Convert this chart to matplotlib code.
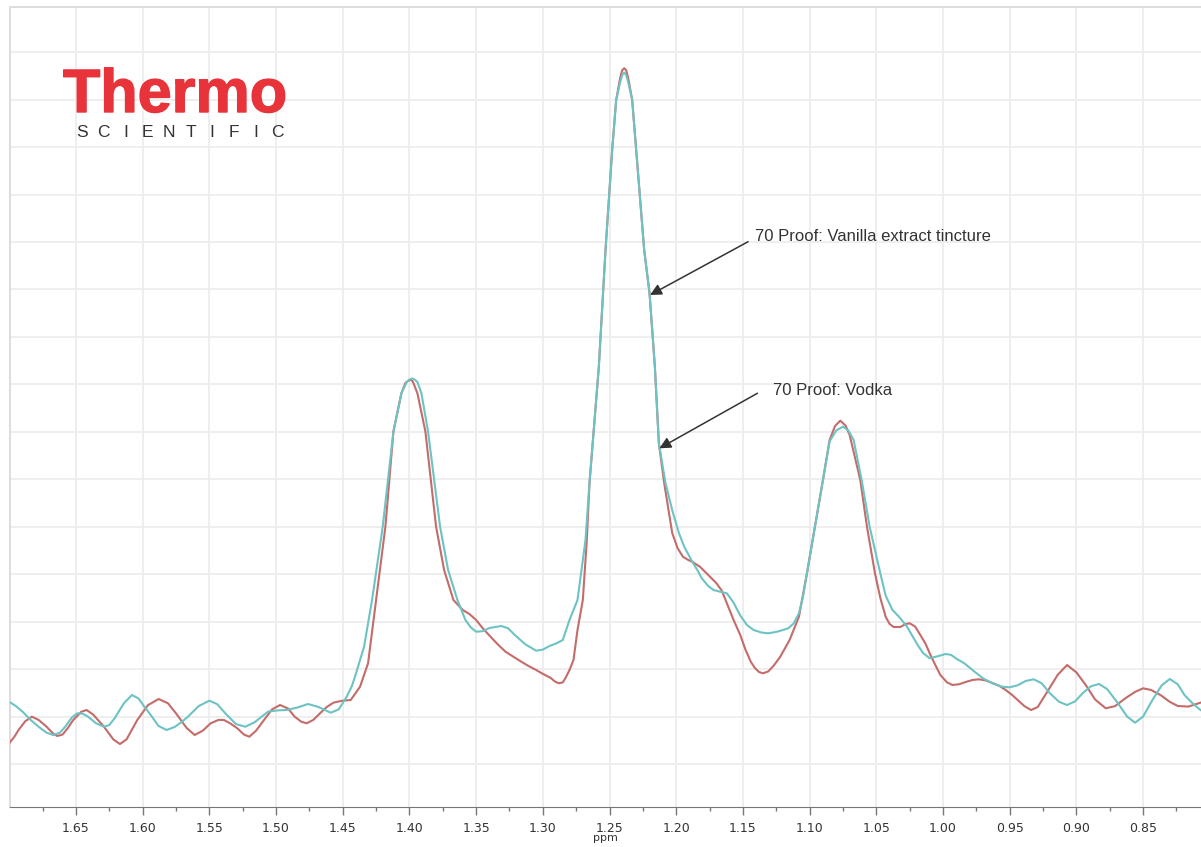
import matplotlib
matplotlib.use("Agg")
import matplotlib.pyplot as plt
import matplotlib.patheffects as pe
import numpy as np
from matplotlib.ticker import MultipleLocator, FormatStrFormatter

# chemical shift (ppm) and intensity for the vanilla extract tincture trace
tincture_ppm = [1.700, 1.695, 1.690, 1.684, 1.678, 1.672, 1.667, 1.662, 1.658, 1.653,
                1.649, 1.645, 1.641, 1.635, 1.629, 1.625, 1.621, 1.614, 1.608, 1.603,
                1.599, 1.595, 1.588, 1.582, 1.576, 1.571, 1.566, 1.558, 1.550, 1.544,
                1.538, 1.530, 1.523, 1.516, 1.506, 1.499, 1.492, 1.484, 1.476, 1.468,
                1.459, 1.453, 1.447, 1.443, 1.440, 1.434, 1.428, 1.420, 1.412, 1.406,
                1.402, 1.400, 1.398, 1.396, 1.394, 1.391, 1.386, 1.377, 1.371, 1.364,
                1.358, 1.354, 1.350, 1.345, 1.340, 1.331, 1.326, 1.321, 1.313, 1.305,
                1.300, 1.295, 1.290, 1.285, 1.280, 1.274, 1.268, 1.265, 1.258, 1.253,
                1.248, 1.245, 1.242, 1.2405, 1.239, 1.2375, 1.236, 1.233, 1.230, 1.224,
                1.220, 1.216, 1.213, 1.208, 1.203, 1.198, 1.194, 1.190, 1.188, 1.184,
                1.181, 1.176, 1.172, 1.167, 1.162, 1.157, 1.152, 1.147, 1.142, 1.136,
                1.131, 1.124, 1.116, 1.112, 1.108, 1.105, 1.102, 1.096, 1.090, 1.085,
                1.080, 1.075, 1.071, 1.067, 1.061, 1.055, 1.047, 1.043, 1.038, 1.033,
                1.027, 1.023, 1.019, 1.015, 1.010, 1.004, 0.998, 0.994, 0.990, 0.984,
                0.977, 0.970, 0.963, 0.956, 0.950, 0.944, 0.938, 0.932, 0.926, 0.920,
                0.913, 0.907, 0.901, 0.895, 0.889, 0.883, 0.877, 0.869, 0.862, 0.856,
                0.850, 0.843, 0.836, 0.830, 0.824, 0.819, 0.813, 0.807]
tincture_int = [1.313, 1.22, 1.102, 0.93, 0.786, 0.66, 0.611, 0.66, 0.786, 0.98,
                1.068, 1.06, 1.00, 0.86, 0.786, 0.82, 0.963, 1.28, 1.454, 1.38,
                1.22, 1.075, 0.80, 0.717, 0.78, 0.88, 0.997, 1.22, 1.334, 1.26,
                1.068, 0.84, 0.786, 0.88, 1.102, 1.13, 1.138, 1.19, 1.264, 1.20,
                1.081, 1.15, 1.418, 1.65, 1.911, 2.472, 3.456, 5.001, 7.003, 7.813,
                8.051, 8.10, 8.124, 8.10, 8.051, 7.813, 7.003, 5.001, 4.089, 3.456,
                3.035, 2.88, 2.788, 2.80, 2.866, 2.908, 2.86, 2.719, 2.52, 2.388,
                2.41, 2.487, 2.54, 2.613, 3.035, 3.456, 4.721, 5.922, 8.373, 10.832,
                12.940, 13.994, 14.37, 14.52, 14.569, 14.52, 14.37, 13.994, 12.940, 10.832,
                9.926, 8.373, 6.759, 5.916, 5.35, 4.868, 4.58, 4.369, 4.263, 4.08,
                3.920, 3.75, 3.667, 3.63, 3.597, 3.40, 3.13, 2.93, 2.824, 2.77,
                2.754, 2.79, 2.860, 2.96, 3.176, 3.52, 4.019, 5.001, 5.985, 6.80,
                7.03, 7.109, 7.03, 6.828, 5.985, 5.001, 4.019, 3.55, 3.25, 3.104,
                2.894, 2.70, 2.508, 2.34, 2.228, 2.27, 2.318, 2.30, 2.22, 2.122,
                1.96, 1.806, 1.70, 1.63, 1.616, 1.66, 1.75, 1.785, 1.70, 1.496,
                1.31, 1.243, 1.32, 1.50, 1.64, 1.686, 1.58, 1.286, 1.00, 0.870,
                1.00, 1.349, 1.66, 1.791, 1.68, 1.454, 1.28, 1.138]

# chemical shift (ppm) and intensity for the vodka trace
vodka_ppm = [1.700, 1.696, 1.693, 1.688, 1.683, 1.678, 1.672, 1.667, 1.664, 1.660,
             1.656, 1.652, 1.646, 1.642, 1.637, 1.629, 1.622, 1.617, 1.612, 1.604,
             1.596, 1.588, 1.581, 1.575, 1.567, 1.561, 1.555, 1.549, 1.543, 1.539,
             1.534, 1.529, 1.524, 1.520, 1.515, 1.509, 1.503, 1.497, 1.491, 1.486,
             1.481, 1.477, 1.472, 1.467, 1.462, 1.457, 1.451, 1.444, 1.437, 1.431,
             1.425, 1.418, 1.412, 1.406, 1.403, 1.401, 1.399, 1.398, 1.397, 1.394,
             1.388, 1.380, 1.374, 1.367, 1.360, 1.355, 1.350, 1.345, 1.339, 1.333,
             1.328, 1.322, 1.317, 1.311, 1.305, 1.300, 1.294, 1.291, 1.288, 1.285,
             1.283, 1.280, 1.277, 1.274, 1.270, 1.267, 1.265, 1.258, 1.253, 1.248,
             1.245, 1.242, 1.2405, 1.239, 1.2375, 1.236, 1.233, 1.230, 1.224, 1.220,
             1.216, 1.213, 1.209, 1.203, 1.199, 1.195, 1.191, 1.188, 1.182, 1.176,
             1.170, 1.166, 1.163, 1.157, 1.152, 1.148, 1.144, 1.141, 1.138, 1.135,
             1.131, 1.127, 1.122, 1.115, 1.108, 1.102, 1.096, 1.090, 1.085, 1.081,
             1.077, 1.073, 1.070, 1.062, 1.057, 1.051, 1.047, 1.043, 1.040, 1.037,
             1.032, 1.028, 1.025, 1.021, 1.017, 1.013, 1.010, 1.006, 1.002, 0.997,
             0.993, 0.988, 0.983, 0.978, 0.973, 0.968, 0.963, 0.958, 0.953, 0.948,
             0.944, 0.939, 0.934, 0.929, 0.925, 0.921, 0.914, 0.907, 0.900, 0.893,
             0.886, 0.878, 0.871, 0.863, 0.856, 0.850, 0.844, 0.837, 0.830, 0.824,
             0.816, 0.807]
vodka_int = [0.436, 0.58, 0.717, 0.90, 0.997, 0.93, 0.786, 0.64, 0.590, 0.62,
             0.76, 0.927, 1.10, 1.138, 1.04, 0.786, 0.52, 0.421, 0.52, 0.927,
             1.24, 1.370, 1.28, 1.068, 0.76, 0.611, 0.70, 0.858, 0.93, 0.927,
             0.85, 0.752, 0.62, 0.575, 0.70, 0.927, 1.15, 1.243, 1.17, 0.997,
             0.89, 0.858, 0.93, 1.068, 1.20, 1.292, 1.33, 1.349, 1.629, 2.122,
             3.456, 5.001, 7.003, 7.813, 8.030, 8.075, 8.093, 8.08, 8.030, 7.813,
             7.003, 5.001, 4.089, 3.456, 3.246, 3.16, 3.035, 2.86, 2.676, 2.50,
             2.367, 2.26, 2.171, 2.07, 1.981, 1.90, 1.812, 1.74, 1.701, 1.72,
             1.812, 1.98, 2.192, 2.824, 3.456, 4.721, 5.922, 8.373, 10.832, 12.940,
             13.994, 14.457, 14.62, 14.662, 14.62, 14.457, 13.994, 12.940, 10.832, 9.926,
             8.373, 6.759, 5.922, 4.868, 4.552, 4.369, 4.30, 4.263, 4.152, 3.983,
             3.815, 3.66, 3.456, 3.035, 2.72, 2.403, 2.15, 2.023, 1.94, 1.911,
             1.95, 2.07, 2.261, 2.613, 3.104, 4.019, 5.001, 5.985, 6.828, 7.12,
             7.235, 7.13, 6.934, 5.985, 5.001, 4.019, 3.50, 3.104, 2.95, 2.887,
             2.887, 2.95, 2.965, 2.90, 2.719, 2.53, 2.333, 2.10, 1.876, 1.72,
             1.665, 1.68, 1.728, 1.77, 1.785, 1.76, 1.707, 1.65, 1.560, 1.45,
             1.349, 1.22, 1.138, 1.20, 1.38, 1.560, 1.88, 2.086, 1.93, 1.665,
             1.36, 1.174, 1.22, 1.391, 1.52, 1.595, 1.56, 1.454, 1.31, 1.222,
             1.21, 1.292]

labels = ["70 Proof: Vanilla extract tincture", "70 Proof: Vodka"]
# arrow tip (on the trace) and tail for each label, in ppm / intensity
tips = [(1.2196, 9.884), (1.2126, 6.653)]
tails = [(1.1461, 11.007), (1.1391, 7.813)]
text_pos = [(1.1408, 11.11), (1.1271, 7.88)]

fig = plt.figure(figsize=(12.01, 8.47), dpi=100)
ax = fig.add_axes([0.008, 0.0478, 0.992, 0.9436])

ax.plot(vodka_ppm, vodka_int, color='#c36c69', lw=1.5, zorder=3)
ax.plot(tincture_ppm, tincture_int, color='#6dc3c3', lw=1.5, zorder=3)

ax.set_xlim(1.6997, 0.8066)
ax.set_ylim(-0.896, 15.947)

ax.xaxis.set_major_locator(MultipleLocator(0.05))
ax.xaxis.set_minor_locator(MultipleLocator(0.025))
ax.xaxis.set_major_formatter(FormatStrFormatter('%.2f'))
ax.set_yticks(np.arange(0, 16))
ax.tick_params(axis='y', left=False, labelleft=False)
ax.tick_params(axis='x', which='major', length=6, width=1, color='#777777',
               labelsize=9, labelcolor='#333333', pad=5)
ax.tick_params(axis='x', which='minor', length=3, width=1, color='#777777')
ax.grid(True, which='major', color='#ededed', lw=1.3, zorder=0)

ax.set_xlabel('ppm', fontsize=8, color='#333333', labelpad=-1)

ax.spines['right'].set_visible(False)
ax.spines['top'].set_color('#dddddd')
ax.spines['left'].set_color('#dddddd')
ax.spines['bottom'].set_color('#777777')
ax.spines['top'].set_linewidth(1.4)
ax.spines['left'].set_linewidth(1.4)

for lab, tip, tail, pos in zip(labels, tips, tails, text_pos):
    ax.annotate('', xy=tip, xytext=tail,
                arrowprops=dict(arrowstyle='-|>', color='#333333', lw=1.1,
                                mutation_scale=17, shrinkA=0, shrinkB=0), zorder=4)
    ax.text(pos[0], pos[1], lab, fontsize=12, family='Liberation Sans',
            color='#333333', va='center', ha='left', zorder=4)

# logo in the top left corner
logo_red = '#e8333a'
fig.text(63 / 1201, 1 - 112 / 847, 'Thermo', fontsize=44, fontweight='bold',
         family='Liberation Sans', color=logo_red, ha='left', va='baseline',
         path_effects=[pe.withStroke(linewidth=1.0, foreground=logo_red)])
letters = 'SCIENTIFIC'
for i, ch in enumerate(letters):
    fig.text((82 + i * 21.7) / 1201, 1 - 137 / 847, ch, fontsize=12.5,
             family='Liberation Sans', color='#333333', ha='center', va='baseline')

fig.savefig('out.png', dpi=100, facecolor='white')
